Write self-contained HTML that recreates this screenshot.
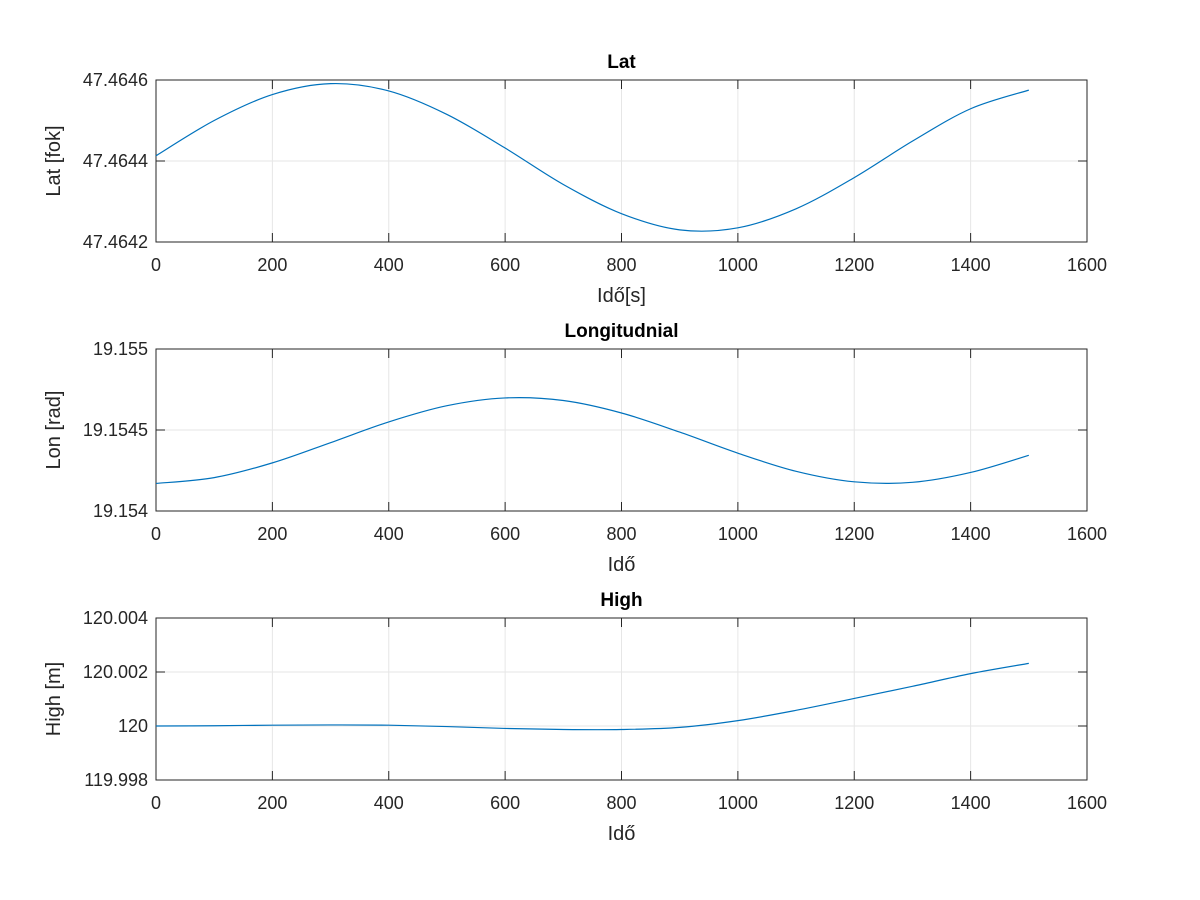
<!DOCTYPE html>
<html><head><meta charset="utf-8"><style>
body{margin:0;background:#fff}
svg{display:block;font-family:"Liberation Sans",Arial,sans-serif}
</style></head><body>
<svg id="chart" width="1200" height="900" viewBox="0 0 1200 900"></svg>
<script>
const times=[0,100,200,300,400,500,600,700,800,900,1000,1100,1200,1300,1400,1500];
const latValues=[47.464413,47.464500,47.464564,47.464591,47.464573,47.464515,47.464432,47.464342,47.464270,47.464230,47.464235,47.464282,47.464359,47.464449,47.464529,47.464575];
const lonValues=[19.154170,19.154206,19.154297,19.154422,19.154550,19.154650,19.154698,19.154682,19.154605,19.154487,19.154357,19.154245,19.154180,19.154177,19.154238,19.154344];
const highValues=[120.0,120.00001,120.00003,120.00004,120.00003,119.99998,119.99991,119.99987,119.99987,119.99995,120.0002,120.00058,120.00102,120.00147,120.00194,120.00232];
const xTicks=[0,200,400,600,800,1000,1200,1400,1600];
const latTicks=[47.4642,47.4644,47.4646];
const latTickLabels=["47.4642","47.4644","47.4646"];
const lonTicks=[19.154,19.1545,19.155];
const lonTickLabels=["19.154","19.1545","19.155"];
const highTicks=[119.998,120,120.002,120.004];
const highTickLabels=["119.998","120","120.002","120.004"];

const svg=document.getElementById('chart');
const NS='http://www.w3.org/2000/svg';
function mk(tag,attrs,parent){const e=document.createElementNS(NS,tag);for(const k in attrs)e.setAttribute(k,attrs[k]);(parent||svg).appendChild(e);return e;}
const L=156,R=1087;
function xs(v){return L+(v-0)/(1600-0)*(R-L);}

function panel(key,top,bottom,ymin,ymax,yt,ytl,vals,title,ylabel,xlabel){
  const g=mk('g',{});
  
  
  const ys=v=>bottom-(v-ymin)/(ymax-ymin)*(bottom-top);
  mk('rect',{x:L,y:top,width:R-L,height:bottom-top,fill:'#fff'},g);
  xTicks.forEach(t=>{
    const x=xs(t);
    const gl=mk('line',{x1:x,x2:x,y1:top,y2:bottom,stroke:'#e6e6e6','stroke-width':1},g);
    
    mk('line',{x1:x,x2:x,y1:bottom,y2:bottom-9,stroke:'#262626'},g);
    mk('line',{x1:x,x2:x,y1:top,y2:top+9,stroke:'#262626'},g);
    const tx=mk('text',{x:x,y:bottom+29,'text-anchor':'middle','font-size':18,fill:'#262626'},g);
    tx.textContent=t;
    
  });
  yt.forEach((t,i)=>{
    const y=ys(t);
    const gl=mk('line',{x1:L,x2:R,y1:y,y2:y,stroke:'#e6e6e6','stroke-width':1},g);
    
    mk('line',{x1:L,x2:L+9,y1:y,y2:y,stroke:'#262626'},g);
    mk('line',{x1:R,x2:R-9,y1:y,y2:y,stroke:'#262626'},g);
    const tx=mk('text',{x:L-8,y:y+6,'text-anchor':'end','font-size':18,fill:'#262626'},g);
    tx.textContent=ytl[i];
    
  });
  const box=mk('rect',{x:L,y:top,width:R-L,height:bottom-top,fill:'none',stroke:'#262626','stroke-width':1},g);
  
  const pts=times.map((t,i)=>[xs(t),ys(vals[i])]);
  let d='M'+pts[0][0]+','+pts[0][1];
  for(let i=0;i<pts.length-1;i++){
    const p0=pts[Math.max(i-1,0)],p1=pts[i],p2=pts[i+1],p3=pts[Math.min(i+2,pts.length-1)];
    const c1=[p1[0]+(p2[0]-p0[0])/6,p1[1]+(p2[1]-p0[1])/6];
    const c2=[p2[0]-(p3[0]-p1[0])/6,p2[1]-(p3[1]-p1[1])/6];
    d+=' C'+c1+' '+c2+' '+p2;
  }
  const line=mk('path',{d:d,fill:'none',stroke:'#0072bd','stroke-width':1.2},g);
  
  const tt=mk('text',{x:(L+R)/2,y:top-12,'text-anchor':'middle','font-size':19,'font-weight':'bold',fill:'#000'},g);
  tt.textContent=title;
  
  const xl=mk('text',{x:(L+R)/2,y:bottom+60,'text-anchor':'middle','font-size':20,fill:'#262626'},g);
  xl.textContent=xlabel;
  
  const cy=(top+bottom)/2;
  const yl=mk('text',{x:60,y:cy,'text-anchor':'middle','font-size':20,fill:'#262626',transform:'rotate(-90 60 '+cy+')'},g);
  yl.textContent=ylabel;
  
}
panel('lat',80,242,47.4642,47.4646,latTicks,latTickLabels,latValues,'Lat','Lat [fok]','Idő[s]');
panel('lon',349,511,19.154,19.155,lonTicks,lonTickLabels,lonValues,'Longitudnial','Lon [rad]','Idő');
panel('high',618,780,119.998,120.004,highTicks,highTickLabels,highValues,'High','High [m]','Idő');
</script>
</body></html>
